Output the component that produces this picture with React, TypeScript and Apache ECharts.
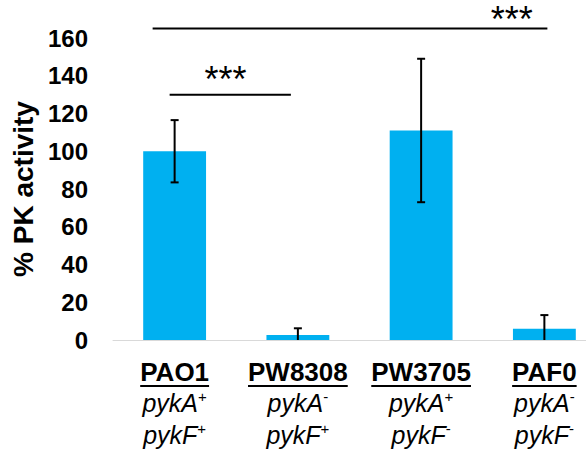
import React, { useEffect, useRef } from 'react';
import * as echarts from 'echarts';

// ---- data ----
const categories = ['PAO1', 'PW8308', 'PW3705', 'PAF0'];
const pykAState = ['+', '-', '+', '-'];
const pykFState = ['+', '+', '-', '-'];
const pkActivity = [100, 2.7, 111, 5.9];
const pkError = [16.5, 3.5, 38, 7.3];
const yMin = 0;
const yMax = 160;
const yStep = 20;
const sigFrom = [0, 0];
const sigTo = [1, 3];
const sigLevel = [130, 165];
const sigLabel = ['***', '***'];

const FONT = 'Arial, "Liberation Sans", sans-serif';
const NAME_SIZE = 26;

function measure(text: string, font: string): number {
  const c = document.createElement('canvas').getContext('2d');
  if (!c) return text.length * 14;
  c.font = font;
  return c.measureText(text).width;
}

export default function App() {
  const ref = useRef<HTMLDivElement>(null);
  useEffect(() => {
    if (!ref.current) return;
    const chart = echarts.init(ref.current, undefined, { renderer: 'svg' });

    const rich: Record<string, any> = {
      name: { fontFamily: FONT, fontSize: NAME_SIZE, fontWeight: 'bold', color: '#000', lineHeight: 26 },
      it: { fontFamily: FONT, fontSize: 25, fontStyle: 'italic', color: '#000', lineHeight: 32 },
      sup: { fontFamily: FONT, fontSize: 15, color: '#000', lineHeight: 32, verticalAlign: 'top', padding: [2, 0, 0, 0] },
    };
    categories.forEach((c, i) => {
      rich['ul' + i] = {
        width: measure(c, `bold ${NAME_SIZE}px ${FONT}`),
        height: 2,
        lineHeight: 2,
        backgroundColor: '#000',
        fontSize: 1,
      };
    });

    const errData = categories.map((_, i) => [i, pkActivity[i], pkError[i]]);
    const sigData = sigFrom.map((f, k) => [f, sigTo[k], sigLevel[k], k]);
    const sigLayout = [
      { startOff: -5, endOff: -7, starPos: 0.46, starDy: -15.5 },
      { startOff: -22, endOff: 3, starPos: 0.91, starDy: -9.5 },
    ];

    chart.setOption({
      animation: false,
      grid: { left: 113, top: 38, height: 302, width: 493 },
      xAxis: {
        type: 'category',
        data: categories,
        axisLine: { lineStyle: { color: '#d9d9d9', width: 1 } },
        axisTick: { show: false },
        axisLabel: {
          interval: 0,
          margin: 19,
          formatter: (v: string, i: number) =>
            `{name|${v}}\n{ul${i}| }\n{it|pykA}{sup|${pykAState[i]}}\n{it|pykF}{sup|${pykFState[i]}}`,
          rich,
        },
      },
      yAxis: {
        type: 'value',
        min: yMin,
        max: yMax,
        interval: yStep,
        axisLine: { show: false },
        axisTick: { show: false },
        splitLine: { show: false },
        axisLabel: { fontFamily: FONT, fontSize: 24, fontWeight: 'bold', color: '#000', margin: 25 },
        name: '% PK activity',
        nameLocation: 'middle',
        nameRotate: 90,
        nameGap: 69,
        nameTextStyle: { fontFamily: FONT, fontSize: 28, fontWeight: 'bold', color: '#000' },
      },
      series: [
        {
          type: 'bar',
          data: pkActivity,
          barWidth: '51%',
          itemStyle: { color: '#00B0F0' },
        },
        {
          type: 'custom',
          data: errData,
          encode: { x: 0, y: 1 },
          z: 10,
          renderItem: (_p: any, api: any) => {
            const i = api.value(0);
            const m = api.value(1);
            const e = api.value(2);
            const lo = Math.max(0, m - e);
            const hi = m + e;
            const top = api.coord([i, hi]);
            const bot = api.coord([i, lo]);
            const cw = 4;
            const st = { stroke: '#000', lineWidth: 2 };
            const children: any[] = [
              { type: 'line', shape: { x1: top[0], y1: top[1], x2: bot[0], y2: bot[1] }, style: st },
              { type: 'line', shape: { x1: top[0] - cw, y1: top[1], x2: top[0] + cw, y2: top[1] }, style: st },
            ];
            if (m - e > 0) {
              children.push({ type: 'line', shape: { x1: bot[0] - cw, y1: bot[1], x2: bot[0] + cw, y2: bot[1] }, style: st });
            }
            return { type: 'group', children };
          },
        },
        {
          type: 'custom',
          data: sigData,
          encode: { x: 0, y: 2 },
          clip: false,
          z: 10,
          renderItem: (_p: any, api: any) => {
            const f = api.value(0);
            const t = api.value(1);
            const lv = api.value(2);
            const k = api.value(3);
            const L = sigLayout[k];
            const a = api.coord([f, lv]);
            const b = api.coord([t, lv]);
            const x1 = a[0] + L.startOff;
            const x2 = b[0] + L.endOff;
            const sx = x1 + (x2 - x1) * L.starPos;
            return {
              type: 'group',
              children: [
                { type: 'line', shape: { x1, y1: a[1], x2, y2: a[1] }, style: { stroke: '#000', lineWidth: 2 } },
                {
                  type: 'text',
                  x: sx,
                  y: a[1] + L.starDy,
                  style: {
                    text: sigLabel[k],
                    fontFamily: FONT,
                    fontSize: 36,
                    fill: '#000',
                    align: 'center',
                    verticalAlign: 'middle',
                  },
                },
              ],
            };
          },
        },
      ],
    });
    return () => chart.dispose();
  }, []);
  return (
    <div style={{ position: 'absolute', left: 0, top: 0, width: 586, height: 455, overflow: 'hidden', background: '#fff' }}>
      <div ref={ref} style={{ width: 610, height: 455 }} />
    </div>
  );
}
